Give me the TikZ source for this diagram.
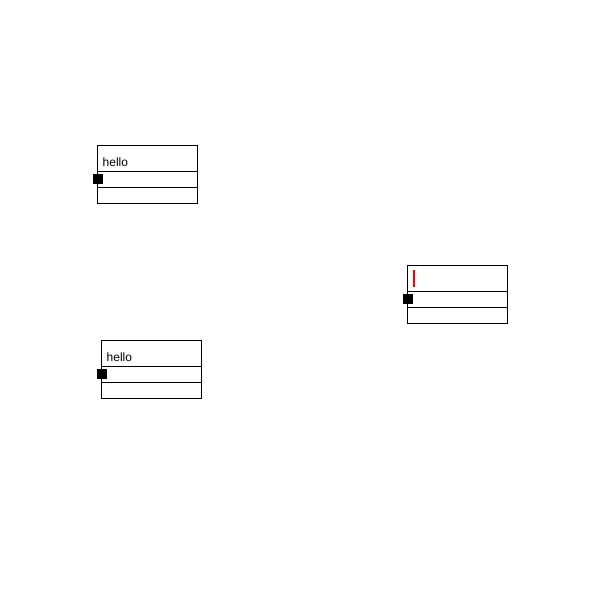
\documentclass[tikz,border=0pt]{standalone}
\usepackage{fontspec}
\setmainfont{Liberation Sans}
\begin{document}
\begin{tikzpicture}[x=1pt,y=-1pt,
  rowbox/.style={draw=black,line width=1pt,minimum width=100pt,inner sep=0pt,outer sep=0pt,anchor=north west},
  port/.style={fill=black,draw=none,minimum size=10pt,inner sep=0pt},
  lbl/.style={font=\fontsize{12pt}{14pt}\selectfont,anchor=base west,inner sep=0pt}]
\useasboundingbox (0,0) rectangle (600,600);
% box 1
\node[rowbox,minimum height=26pt] (a1) at (97.5,145.5) {};
\node[rowbox,minimum height=16pt] (a2) at (97.5,171.5) {};
\node[rowbox,minimum height=16pt] (a3) at (97.5,187.5) {};
\node[lbl] (at) at (102.5,166.3) {hello};
\node[port] (ap) at ([yshift=0.5pt]a2.west) {};
% box 2
\node[rowbox,minimum height=26pt] (b1) at (407.5,265.5) {};
\node[rowbox,minimum height=16pt] (b2) at (407.5,291.5) {};
\node[rowbox,minimum height=16pt] (b3) at (407.5,307.5) {};
\node[port] (bp) at ([yshift=0.5pt]b2.west) {};
\coordinate (bc1) at (413.8,270);
\coordinate (bc2) at (413.8,286.5);
\draw[red,line width=2pt] (bc1) -- (bc2);
% box 3
\node[rowbox,minimum height=26pt] (c1) at (101.5,340.5) {};
\node[rowbox,minimum height=16pt] (c2) at (101.5,366.5) {};
\node[rowbox,minimum height=16pt] (c3) at (101.5,382.5) {};
\node[lbl] (ct) at (106.5,361.3) {hello};
\node[port] (cp) at ([yshift=0.5pt]c2.west) {};
\end{tikzpicture}
\end{document}
